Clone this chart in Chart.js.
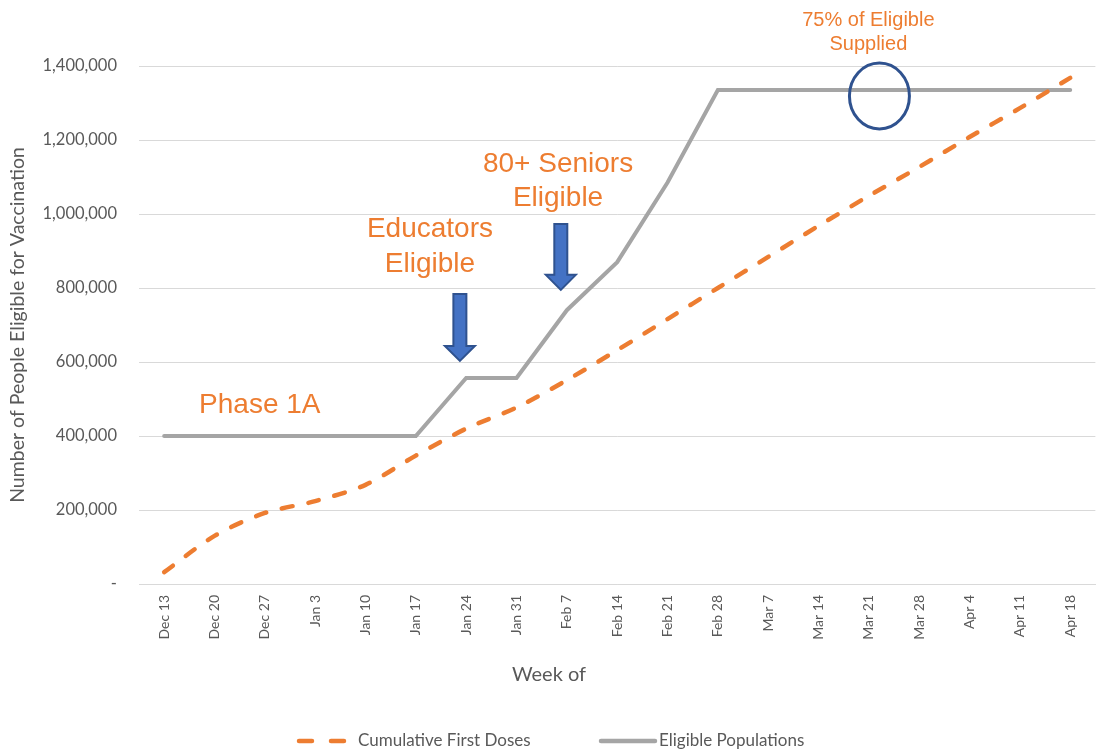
<!DOCTYPE html>
<html>
<head>
<meta charset="utf-8">
<script src="https://cdn.jsdelivr.net/npm/chart.js@4.4.1/dist/chart.umd.min.js"></script>
<style>
  body { margin: 0; background: #fff; }
  #wrap { width: 1098px; height: 753px; }
</style>
</head>
<body>
<div id="wrap"><canvas id="vaxChart"></canvas></div>
<script>
// ===== DATA =====
const weeks = ["Dec 13", "Dec 20", "Dec 27", "Jan 3", "Jan 10", "Jan 17", "Jan 24", "Jan 31",
  "Feb 7", "Feb 14", "Feb 21", "Feb 28", "Mar 7", "Mar 14", "Mar 21", "Mar 28", "Apr 4", "Apr 11", "Apr 18"];
const firstDoses = [32000, 130000, 192000, 224000, 268000, 347000, 420000, 477000, 551000, 632000,
  716000, 800000, 884000, 968000, 1049000, 1127000, 1208000, 1286000, 1368000];
const eligible = [400000, 400000, 400000, 400000, 400000, 400000, 557000, 557000, 740000, 870000,
  1085000, 1335000, 1335000, 1335000, 1335000, 1335000, 1335000, 1335000, 1335000];
const yTicks = [0, 200000, 400000, 600000, 800000, 1000000, 1200000, 1400000];

// ===== ANNOTATIONS (anchored in data units: x = week index, y = people) =====
const labels = [
  { lines: ["Phase 1A"], x: 1.90, y: 462000, size: 28, gap: 34 },
  { lines: ["Educators", "Eligible"], x: 5.28, y: 938000, size: 28, gap: 35 },
  { lines: ["80+ Seniors", "Eligible"], x: 7.825, y: 1113000, size: 28, gap: 33.5 },
  { lines: ["75% of Eligible", "Supplied"], x: 13.99, y: 1508000, size: 20, gap: 23.5 },
];
const arrows = [
  { x: 5.875, from: 784000, to: 603000 },
  { x: 7.88, from: 973000, to: 795000 },
];
const circle = { x: 14.21, y: 1319000 };

const ORANGE = "#ED7D31";
const GRAY = "#A5A5A5";
const TEXT = "#595959";
const BASE_FONT = "Lato";

const annotationPlugin = {
  id: "annotations",
  afterDatasetsDraw(chart) {
    const { ctx, scales: { x, y } } = chart;
    ctx.save();

    // text notes
    ctx.fillStyle = ORANGE;
    ctx.textAlign = "center";
    ctx.textBaseline = "alphabetic";
    labels.forEach(n => {
      ctx.font = `${n.size}px "Liberation Sans", Arial, sans-serif`;
      const px = x.getPixelForValue(n.x);
      const py = y.getPixelForValue(n.y);
      n.lines.forEach((line, i) => ctx.fillText(line, px, py + i * n.gap));
    });

    // down arrows
    arrows.forEach(a => {
      const cx = x.getPixelForValue(a.x);
      const top = y.getPixelForValue(a.from);
      const tip = y.getPixelForValue(a.to);
      const headH = 15, shaftW = 13, headW = 30;
      ctx.beginPath();
      ctx.moveTo(cx - shaftW / 2, top);
      ctx.lineTo(cx + shaftW / 2, top);
      ctx.lineTo(cx + shaftW / 2, tip - headH);
      ctx.lineTo(cx + headW / 2, tip - headH);
      ctx.lineTo(cx, tip);
      ctx.lineTo(cx - headW / 2, tip - headH);
      ctx.lineTo(cx - shaftW / 2, tip - headH);
      ctx.closePath();
      ctx.fillStyle = "#4472C4";
      ctx.fill();
      ctx.lineWidth = 2;
      ctx.strokeStyle = "#2F528F";
      ctx.stroke();
    });

    // circle
    ctx.beginPath();
    ctx.ellipse(x.getPixelForValue(circle.x), y.getPixelForValue(circle.y), 30, 33, 0, 0, Math.PI * 2);
    ctx.lineWidth = 3;
    ctx.strokeStyle = "#2F528F";
    ctx.stroke();

    ctx.restore();
  },

  // x title + legend, placed like the original (centred on the whole picture)
  afterDraw(chart) {
    const { ctx } = chart;
    ctx.save();
    ctx.fillStyle = TEXT;
    ctx.textAlign = "center";
    ctx.textBaseline = "middle";
    ctx.font = `20px ${BASE_FONT}`;
    ctx.fillText("Week of", 549, 675);

    const legendY = 741;
    const items = [
      { ds: chart.data.datasets[0], x0: 299, x1: 346, dash: [13, 19], textX: 358 },
      { ds: chart.data.datasets[1], x0: 601, x1: 655, dash: [], textX: 659 },
    ];
    ctx.font = `17px ${BASE_FONT}`;
    ctx.textAlign = "left";
    items.forEach(it => {
      ctx.beginPath();
      ctx.setLineDash(it.dash);
      ctx.lineCap = "round";
      ctx.lineWidth = 4.5;
      ctx.strokeStyle = it.ds.borderColor;
      ctx.moveTo(it.x0, legendY);
      ctx.lineTo(it.x1, legendY);
      ctx.stroke();
      ctx.setLineDash([]);
      ctx.fillText(it.ds.label, it.textX, legendY);
    });
    ctx.restore();
  }
};

// ===== CHART =====
const ctx = document.getElementById("vaxChart").getContext("2d");
const vaxChart = new Chart(ctx, {
  type: "line",
  data: {
    labels: weeks,
    datasets: [
      {
        label: "Cumulative First Doses",
        data: firstDoses,
        borderColor: ORANGE,
        backgroundColor: ORANGE,
        borderWidth: 4.5,
        borderDash: [11, 16],
        borderCapStyle: "round",
        pointRadius: 0,
        tension: 0.3,
      },
      {
        label: "Eligible Populations",
        data: eligible,
        borderColor: GRAY,
        backgroundColor: GRAY,
        borderWidth: 4,
        borderCapStyle: "round",
        pointRadius: 0,
        tension: 0,
      },
    ],
  },
  options: {
    responsive: true,
    maintainAspectRatio: false,
    animation: false,
    layout: { padding: { top: 66, left: 0, right: 0, bottom: 30 } },
    scales: {
      x: {
        offset: true,
        afterFit: (scale) => { scale.height = 139; },
        grid: { display: false, drawTicks: false },
        border: { display: true, color: "#D9D9D9", width: 1 },
        ticks: {
          color: TEXT,
          font: { family: BASE_FONT, size: 14 },
          maxRotation: 90,
          minRotation: 90,
          padding: 11,
          autoSkip: false,
        },
      },
      y: {
        min: 0,
        max: 1400000,
        afterFit: (scale) => { scale.width = 139; },
        afterBuildTicks: (scale) => { scale.ticks = yTicks.map(v => ({ value: v })); },
        grid: { color: "#D9D9D9", lineWidth: 1, drawTicks: false },
        border: { display: false },
        ticks: {
          color: TEXT,
          font: { family: BASE_FONT, size: 16.5 },
          padding: 22,
          callback: (v) => v === 0 ? "-" : v.toLocaleString("en-US"),
        },
        title: {
          display: true,
          text: "Number of People Eligible for Vaccination",
          color: TEXT,
          font: { family: BASE_FONT, size: 19.5 },
          padding: { top: 6, bottom: 0 },
        },
      },
    },
    plugins: {
      legend: { display: false },
      tooltip: { enabled: false },
    },
  },
  plugins: [annotationPlugin],
});
</script>
</body>
</html>
